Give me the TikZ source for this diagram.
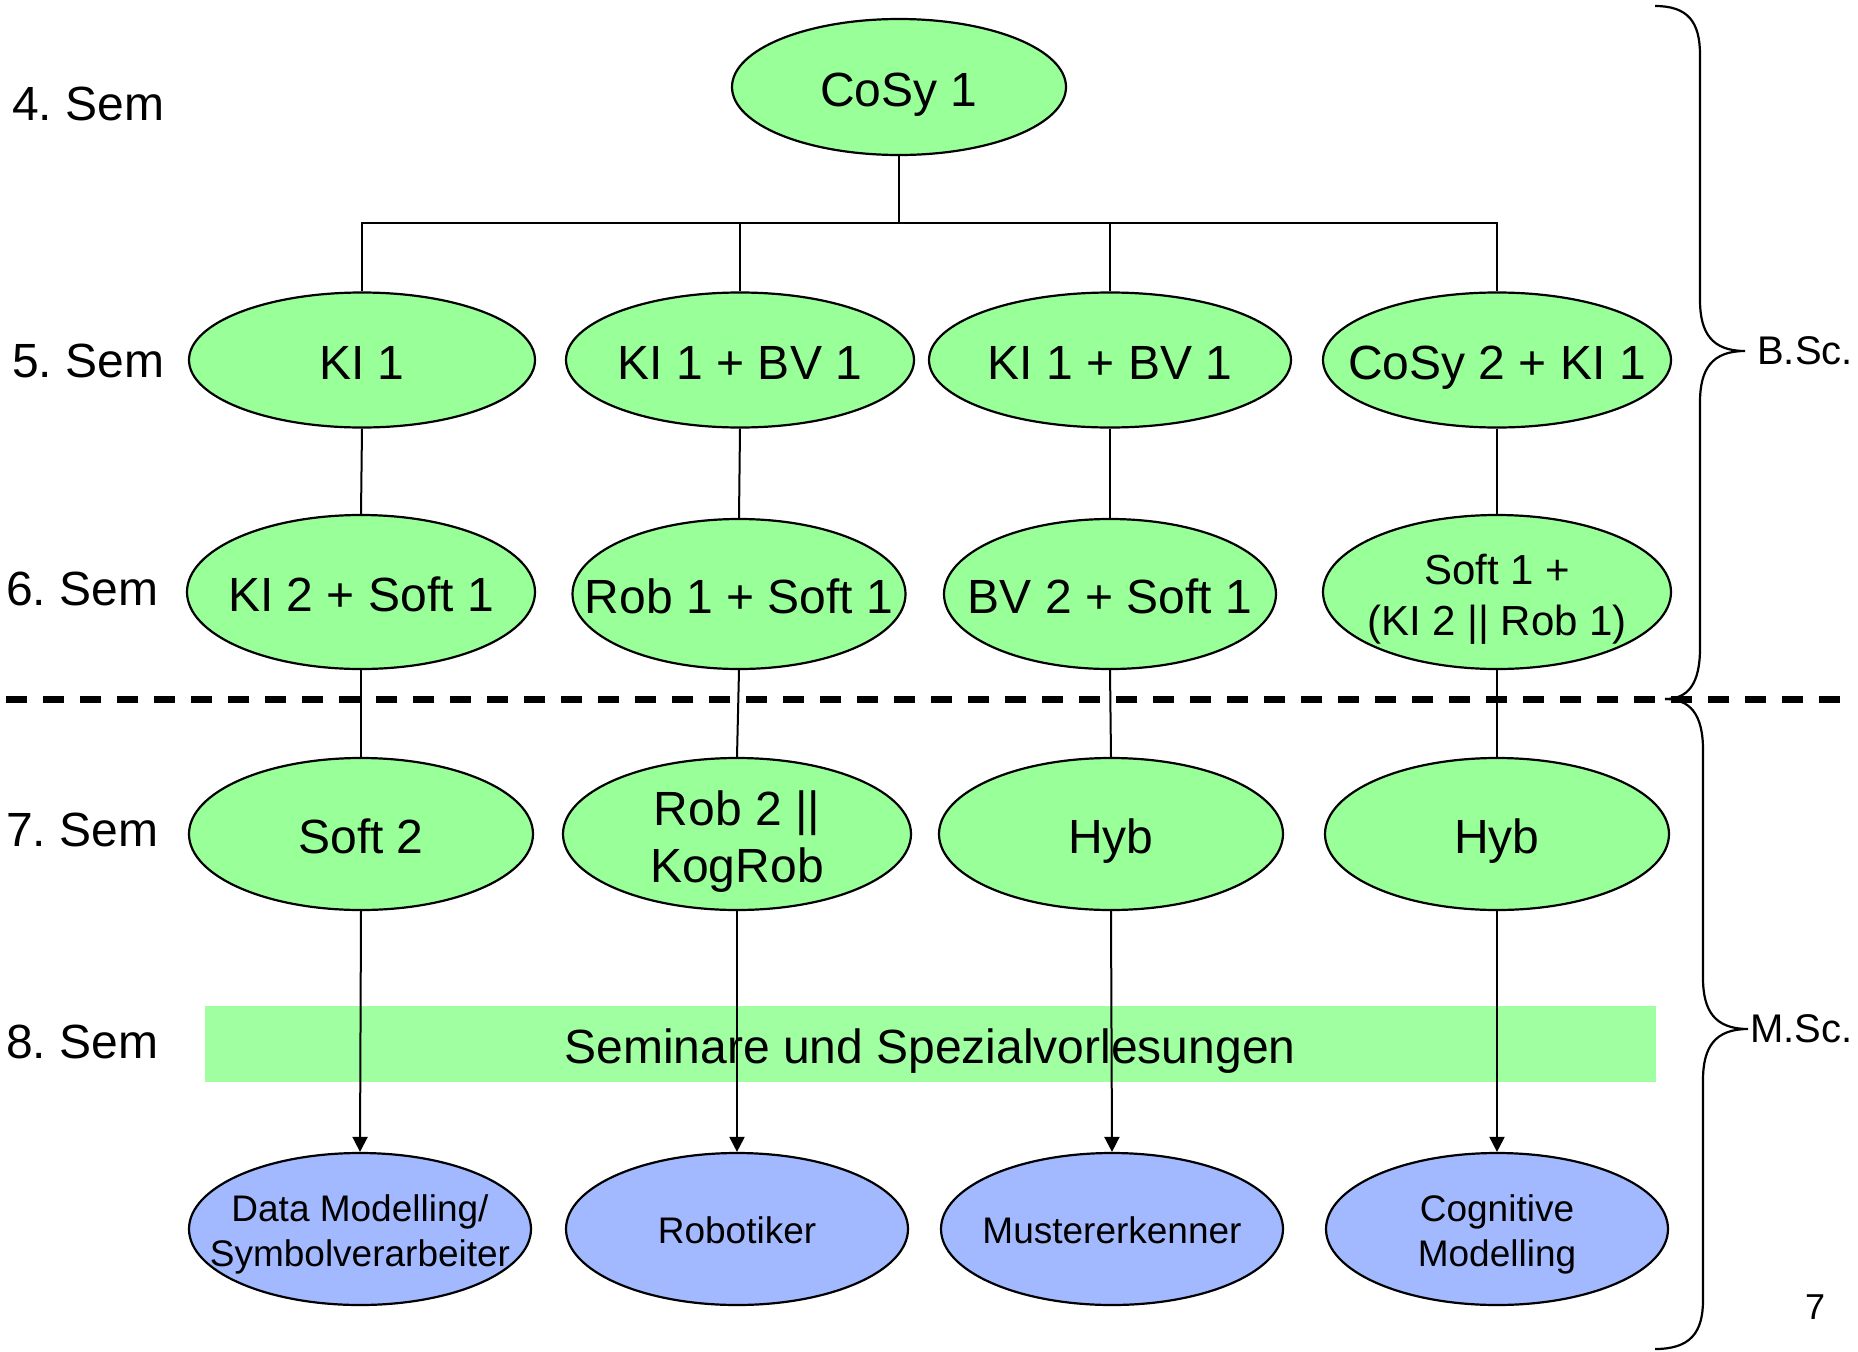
\documentclass[tikz,border=0pt]{standalone}
\usepackage{fontspec}
\setmainfont{Liberation Sans}
\frenchspacing
\usetikzlibrary{shapes.geometric,arrows.meta}
\definecolor{grn}{RGB}{153,255,153}
\definecolor{barg}{RGB}{160,255,160}
\definecolor{blu}{RGB}{163,185,255}
\newcommand\fbig{\fontsize{48}{57}\selectfont}
\newcommand\fmid{\fontsize{42}{51}\selectfont}
\newcommand\fsml{\fontsize{37}{45}\selectfont}
\newcommand\fbr{\fontsize{40}{48}\selectfont}
\tikzset{
  gE/.style={ellipse, draw=black, line width=2.2pt, fill=grn, inner sep=0pt},
  bE/.style={ellipse, draw=black, line width=2.2pt, fill=blu, inner sep=0pt, minimum width=342, minimum height=152},
  tb/.style={font=\fbig, align=center, inner sep=0pt, text depth=0pt, yshift=-2.5pt},
  tm/.style={font=\fmid, align=center, inner sep=0pt, text depth=0pt, yshift=-2.5pt},
  ts/.style={font=\fsml, align=center, inner sep=0pt, text depth=0pt, yshift=-1.5pt},
  conn/.style={line width=2pt},
  arr/.style={line width=2pt, -{Triangle[width=15pt,length=15pt]}},
  semlab/.style={font=\fbig, anchor=west, inner sep=0pt},
  brace/.style={line width=2.2pt},
}
\begin{document}
\begin{tikzpicture}[x=1pt,y=-1pt]
\useasboundingbox (0,0) rectangle (1858,1352);
% row labels
\node[semlab] (s4) at (12,104) {4. Sem};
\node[semlab] (s5) at (12,361) {5. Sem};
\node[semlab] (s6) at (6,589) {6. Sem};
\node[semlab] (s7) at (6,830) {7. Sem};
\node[semlab] (s8) at (6,1042) {8. Sem};
% row 4
\node[gE, minimum width=334, minimum height=136, label={[tb]center:CoSy 1}] (cosy) at (899,87) {};
% row 5
\node[gE, minimum width=346, minimum height=135, label={[tb]center:KI 1}] (a5) at (362,360) {};
\node[gE, minimum width=348, minimum height=135, label={[tb]center:KI 1 + BV 1}] (b5) at (740,360) {};
\node[gE, minimum width=362, minimum height=135, label={[tb]center:KI 1 + BV 1}] (c5) at (1110,360) {};
\node[gE, minimum width=348, minimum height=135, label={[tb]center:CoSy 2 + KI 1}] (d5) at (1497,360) {};
% row 6
\node[gE, minimum width=348, minimum height=154, label={[tb]center:KI 2 + Soft 1}] (a6) at (361,592) {};
\node[gE, minimum width=333, minimum height=150, label={[tb]center:Rob 1 + Soft 1}] (b6) at (739,594) {};
\node[gE, minimum width=332, minimum height=150, label={[tb]center:BV 2 + Soft 1}] (c6) at (1110,594) {};
\node[gE, minimum width=348, minimum height=154, label={[tm]center:Soft 1 +\\(KI 2 || Rob 1)}] (d6) at (1497,592) {};
% row 7
\node[gE, minimum width=344, minimum height=152, label={[tb]center:Soft 2}] (a7) at (361,834) {};
\node[gE, minimum width=348, minimum height=152, label={[tb]center:Rob 2 ||\\KogRob}] (b7) at (737,834) {};
\node[gE, minimum width=344, minimum height=152, label={[tb]center:Hyb}] (c7) at (1111,834) {};
\node[gE, minimum width=344, minimum height=152, label={[tb]center:Hyb}] (d7) at (1497,834) {};
% bar
\node[fill=barg, minimum width=1451, minimum height=76, inner sep=0pt, label={[tb]center:Seminare und Spezialvorlesungen}] (bar) at (930,1044) {};
% row 8 (outcomes)
\node[bE, label={[ts]center:Data Modelling/\\Symbolverarbeiter}] (a8) at (360,1229) {};
\node[bE, label={[ts]center:Robotiker}] (b8) at (737,1229) {};
\node[bE, label={[ts]center:Mustererkenner}] (c8) at (1112,1229) {};
\node[bE, label={[ts]center:Cognitive\\Modelling}] (d8) at (1497,1229) {};
% bus
\coordinate (bus) at (899,223);
\draw[conn] (cosy.south) -- (bus);
\draw[conn] (a5.north) |- (d5.north |- bus) -- (d5.north);
\draw[conn] (b5.north) -- (b5.north |- bus);
\draw[conn] (c5.north) -- (c5.north |- bus);
% row 5 -> 6
\draw[conn] (a5.south) -- (a6.north);
\draw[conn] (b5.south) -- (b6.north);
\draw[conn] (c5.south) -- (c6.north);
\draw[conn] (d5.south) -- (d6.north);
% row 6 -> 7
\draw[conn] (a6.south) -- (a7.north);
\draw[conn] (b6.south) -- (b7.north);
\draw[conn] (c6.south) -- (c7.north);
\draw[conn] (d6.south) -- (d7.north);
% dashed separator
\coordinate (dl) at (6,699);
\coordinate (dr) at (1840,699);
\draw[line width=7pt, dash pattern=on 21pt off 16pt] (dl) -- (dr);
% arrows row 7 -> 8
\draw[arr] (a7.south) -- (a8.north);
\draw[arr] (b7.south) -- (b8.north);
\draw[arr] (c7.south) -- (c8.north);
\draw[arr] (d7.south) -- (d8.north);
% braces
\draw[brace] (1655,6) .. controls (1688,6) and (1700,22) .. (1700,55) -- (1700,300)
  .. controls (1700,333) and (1712,351) .. (1745,351)
  .. controls (1712,351) and (1700,369) .. (1700,402) -- (1700,648)
  .. controls (1700,684) and (1688,699) .. (1665,699);
\draw[brace] (1665,699) .. controls (1690,699) and (1703,714) .. (1703,750) -- (1703,978)
  .. controls (1703,1011) and (1715,1029) .. (1748,1029)
  .. controls (1715,1029) and (1703,1047) .. (1703,1080) -- (1703,1300)
  .. controls (1703,1333) and (1690,1349) .. (1655,1349);
\node[font=\fbr, anchor=west, inner sep=0pt] (bsc) at (1757,351) {B.Sc.};
\node[font=\fbr, anchor=west, inner sep=0pt] (msc) at (1750,1029) {M.Sc.};
\node[font=\fontsize{36}{43}\selectfont, inner sep=0pt] (pg) at (1815,1307) {7};
\end{tikzpicture}
\end{document}
